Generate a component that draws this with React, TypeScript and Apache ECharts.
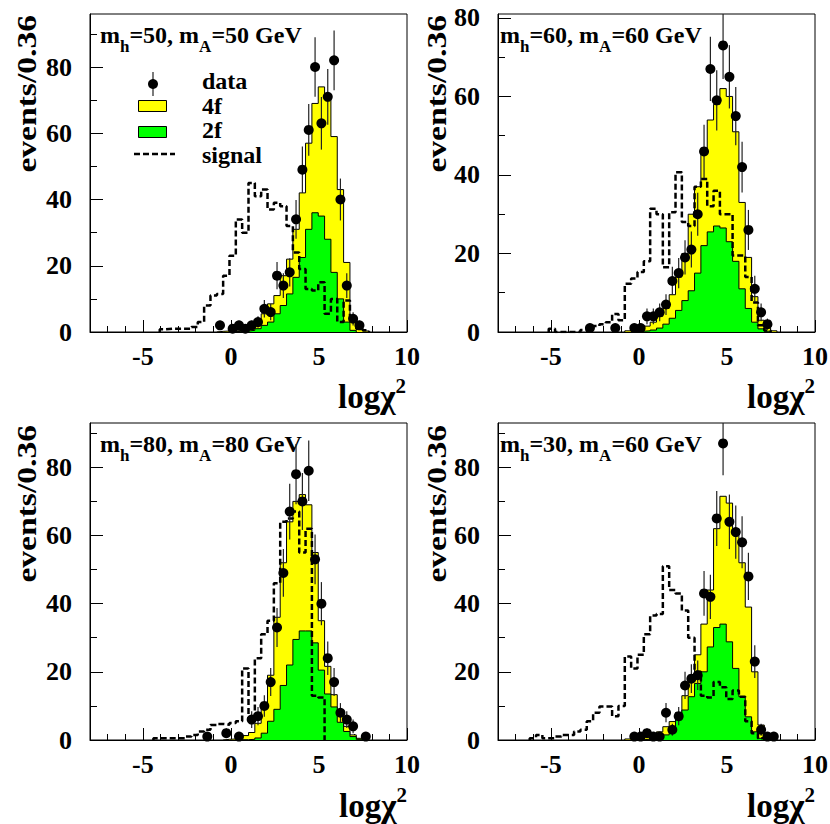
import { useEffect, useRef } from 'react'
import * as echarts from 'echarts'

const FONT = '"Liberation Serif", "Times New Roman", Times, serif'

// 50 bins of width 0.36 between -8 and 10
const BIN_MIN = -8
const BIN_WIDTH = 0.36
const N_BINS = 50

const xMin = -8
const xMax = 10
const xMajorTicks = [-5, 0, 5, 10]
const xMinorTicks = [-7, -6, -4, -3, -2, -1, 1, 2, 3, 4, 6, 7, 8, 9]
const yMajorTicks = [0, 20, 40, 60, 80]
const yMinorTicks = [10, 30, 50, 70, 90]

const panelMh = ['50', '60', '80', '30']
const panelMa = ['50', '60', '80', '60']
const panelYMax = [96, 81, 93, 93]

// bin contents, given from a first bin index (other bins are empty)
function fromBin(first: number, values: number[]): number[] {
  const out = new Array(N_BINS).fill(0)
  values.forEach((v, i) => { out[first + i] = v })
  return out
}

// mh=50, mA=50
const p1Data = fromBin(20, [2, 0, 1, 2, 1, 2, 3, 7, 6, 17, 14, 18, 34, 49, 61, 80, 63, 71, 82, 40, 14, 4, 2])
const p1Total = fromBin(20, [0.2, 0.3, 0.3, 0.5, 0.8, 1.5, 3, 5.5, 8.5, 11, 17, 22, 31, 42, 57, 69, 74, 71, 59, 43, 21, 4, 1, 0.3])
const p1TwoF = fromBin(22, [0.1, 0.2, 0.3, 0.5, 1, 2, 3, 5.5, 8, 11.5, 16.5, 22.5, 31, 36, 35, 28, 18, 10, 3, 0.5])
const p1Signal = fromBin(11, [0.8, 1, 1, 1, 1, 1.5, 3, 8, 11, 11.5, 17, 23, 34, 30, 45, 41, 43, 37, 39, 38, 32, 24, 19, 13, 12.5, 15, 5.5, 10, 3, 9.5, 4, 1, 0.5])

// mh=60, mA=60
const p2Data = fromBin(14, [1, 0, 0, 0, 1, 0, 0, 1, 1, 4, 4, 5, 7, 13, 15, 19, 21, 30, 46, 67, 59, 73, 65, 55, 42, 26, 11, 5, 2])
const p2Total = fromBin(20, [0.3, 0.5, 0.8, 1.5, 2.5, 4, 6, 9.5, 14, 20, 30, 37, 46, 54, 58, 62, 60, 51, 33, 19, 9, 3, 1, 0.3])
const p2TwoF = fromBin(21, [0.1, 0.2, 0.3, 0.5, 1, 2, 3.5, 5.5, 8, 10.5, 15, 22, 25.5, 27, 26.5, 23, 18, 11, 6, 2.5, 0.8, 0.2])
const p2Signal = fromBin(8, [0.8, 0, 0, 0, 0, 0.5, 1, 1.5, 2, 2.5, 4.6, 3, 12.3, 13.6, 15.3, 18, 31.4, 30, 16.5, 30.5, 40.7, 28, 27, 37, 39, 32, 36, 30, 30, 19.5, 19.5, 14, 7.5, 1.7, 0.4])

// mh=80, mA=80
const p3Data = fromBin(18, [1, 0, 0, 2, 0, 1, 0, 6, 7, 10, 17, 33, 49, 67, 78, 70, 79, 53, 40, 24, 17, 8, 6, 4, 0, 1])
const p3Total = fromBin(21, [0.2, 0.3, 0.7, 1.3, 2.2, 4.9, 10, 19, 36, 52, 64, 70, 72, 69, 55, 35, 21.6, 13.3, 8, 4, 1.5, 0.5])
const p3TwoF = fromBin(23, [0.1, 0.1, 0.2, 0.6, 2, 5.5, 9, 16, 22, 29.5, 32, 32, 28.5, 20.5, 13.5, 9.7, 5.2, 2.5, 1, 0.2])
const p3Signal = fromBin(10, [0.5, 0.5, 0.5, 0.5, 0.5, 1, 1.5, 2.5, 3, 4.4, 4.7, 4.5, 5, 5.5, 21, 6, 24, 31, 35, 46, 64, 65, 67, 55, 62, 13, 12.5])

// mh=30, mA=60
const p4Data = fromBin(21, [1, 1, 2, 1, 1, 8, 3, 7, 16, 18, 19, 43, 42, 65, 87, 64, 61, 58, 48, 23, 3, 1, 1])
const p4Total = fromBin(20, [0.3, 0.5, 0.7, 1, 1.5, 2.4, 3.9, 5.4, 8, 13, 18, 25, 34, 44, 62, 71.5, 69.5, 62, 52, 39, 20, 4.4, 1, 0.3])
const p4TwoF = fromBin(22, [0.1, 0.2, 0.3, 0.5, 1.5, 3.4, 5.9, 8.8, 12.7, 16.6, 20, 27.3, 33, 34, 28.8, 21, 12.7, 6.8, 2.4, 0.5])
const p4Signal = fromBin(5, [0.5, 1.5, 0.5, 0.5, 1, 1.5, 1.5, 2.5, 3, 5.5, 8, 9.8, 9.8, 7, 10, 24.5, 21, 25, 31, 36.5, 37, 51, 44, 43, 38, 30, 20, 13, 12.5, 17, 15.5, 12, 14.5, 12.7, 5.5, 2, 0.5])

const panels = [
  { data: p1Data, total: p1Total, twoF: p1TwoF, signal: p1Signal },
  { data: p2Data, total: p2Total, twoF: p2TwoF, signal: p2Signal },
  { data: p3Data, total: p3Total, twoF: p3TwoF, signal: p3Signal },
  { data: p4Data, total: p4Total, twoF: p4TwoF, signal: p4Signal },
]

// layout (px)
const gridBoxes = [[90, 14, 317, 318], [498, 14, 317, 318], [90, 423, 317, 317], [498, 423, 317, 317]]
const titlePos = [[100, 23], [500, 23], [100, 432], [500, 432]]
const yTitlePos = [[26, 15], [436, 15], [26, 425], [436, 425]]
const xTitlePos = [[406, 375], [815, 375], [407, 784], [815, 784]]

const edge = (k: number) => +(BIN_MIN + BIN_WIDTH * k).toFixed(2)
const center = (k: number) => +(BIN_MIN + BIN_WIDTH * (k + 0.5)).toFixed(2)

function stepLine(values: number[]) {
  const first = values.findIndex(v => v > 0)
  let last = values.length - 1
  while (last > 0 && !(values[last] > 0)) last--
  const pts: number[][] = [[edge(first), 0]]
  for (let k = first; k <= last; k++) pts.push([edge(k), values[k]])
  pts.push([edge(last + 1), values[last]])
  pts.push([edge(last + 1), 0])
  return pts
}

function points(values: number[]) {
  const out: number[][] = []
  values.forEach((v, k) => { if (v > 0) out.push([center(k), v]) })
  return out
}

const labelStyle = { fontSize: 26, fontWeight: 'bold', fontFamily: FONT, color: '#000' }
const black = { color: '#000', width: 1 }

function buildOption() {
  const grid: any[] = []
  const xAxis: any[] = []
  const yAxis: any[] = []
  const series: any[] = []
  const graphic: any[] = []

  panels.forEach((p, g) => {
    const [left, top, width, height] = gridBoxes[g]
    grid.push({ left, top, width, height, show: true, borderColor: '#000', borderWidth: 1, containLabel: false, outerBoundsMode: 'none' })

    xAxis.push({
      type: 'value', gridIndex: g, min: xMin, max: xMax, position: 'bottom',
      axisLine: { onZero: false, lineStyle: black },
      axisTick: { customValues: xMajorTicks, inside: true, length: 12, lineStyle: black },
      axisLabel: { customValues: xMajorTicks, margin: 11, ...labelStyle },
      splitLine: { show: false },
    })
    xAxis.push({
      type: 'value', gridIndex: g, min: xMin, max: xMax, position: 'bottom',
      axisLine: { show: false, onZero: false },
      axisTick: { customValues: xMinorTicks, inside: true, length: 6, lineStyle: black },
      axisLabel: { show: false },
      splitLine: { show: false },
    })
    const yMax = panelYMax[g]
    yAxis.push({
      type: 'value', gridIndex: g, min: 0, max: yMax, position: 'left',
      axisLine: { onZero: false, lineStyle: black },
      axisTick: { customValues: yMajorTicks, inside: true, length: 13, lineStyle: black },
      axisLabel: { customValues: yMajorTicks, margin: 18, ...labelStyle },
      splitLine: { show: false },
    })
    yAxis.push({
      type: 'value', gridIndex: g, min: 0, max: yMax, position: 'left',
      axisLine: { show: false, onZero: false },
      axisTick: { customValues: yMinorTicks.filter(v => v < yMax), inside: true, length: 7, lineStyle: black },
      axisLabel: { show: false },
      splitLine: { show: false },
    })

    const ax = { xAxisIndex: 2 * g, yAxisIndex: 2 * g }
    series.push({
      type: 'line', ...ax, data: stepLine(p.total), step: 'end', symbol: 'none', silent: true, z: 2,
      lineStyle: { color: '#000', width: 1 }, areaStyle: { color: '#ffff00', opacity: 1 },
    })
    series.push({
      type: 'line', ...ax, data: stepLine(p.twoF), step: 'end', symbol: 'none', silent: true, z: 3,
      lineStyle: { color: '#000', width: 1 }, areaStyle: { color: '#00ff00', opacity: 1 },
    })
    series.push({
      type: 'line', ...ax, data: stepLine(p.signal), step: 'end', symbol: 'none', silent: true, z: 4,
      lineStyle: { color: '#000', width: 2.5, type: [6, 3] },
    })
    const pts = points(p.data)
    series.push({
      type: 'custom', ...ax, data: pts, clip: true, silent: true, z: 5,
      encode: { x: 0, y: 1 },
      renderItem: (_params: any, api: any) => {
        const x = api.value(0)
        const n = api.value(1)
        const e = Math.sqrt(n)
        const a = api.coord([x, n - e])
        const b = api.coord([x, n + e])
        return { type: 'line', shape: { x1: a[0], y1: a[1], x2: b[0], y2: b[1] }, style: { stroke: '#222', lineWidth: 1.2 } }
      },
    })
    series.push({
      type: 'scatter', ...ax, data: pts, symbolSize: 10, silent: true, z: 6,
      itemStyle: { color: '#000', opacity: 1 },
    })

    // panel texts
    const tok = { fontWeight: 'bold', fontFamily: FONT, fill: '#000' }
    graphic.push({
      type: 'text', x: titlePos[g][0], y: titlePos[g][1], silent: true,
      style: {
        text: `{m|m}{s|h}{m|=${panelMh[g]}, m}{s|A}{m|=${panelMa[g]} GeV}`,
        align: 'left', verticalAlign: 'top',
        rich: {
          m: { ...tok, fontSize: 24, verticalAlign: 'top' },
          s: { ...tok, fontSize: 17, lineHeight: 32, verticalAlign: 'bottom' },
        },
      },
    })
    graphic.push({
      type: 'text', x: yTitlePos[g][0], y: yTitlePos[g][1], rotation: Math.PI / 2, scaleX: 1.2, silent: true,
      style: { text: 'events/0.36', ...tok, fontSize: 28, align: 'right', verticalAlign: 'middle' },
    })
    graphic.push({
      type: 'text', x: xTitlePos[g][0], y: xTitlePos[g][1], silent: true,
      style: {
        text: '{m|logχ}{p|2}', align: 'right', verticalAlign: 'top',
        rich: {
          m: { ...tok, fontSize: 33, lineHeight: 38, verticalAlign: 'bottom' },
          p: { ...tok, fontSize: 21, verticalAlign: 'top' },
        },
      },
    })
  })

  // legend of the first panel
  const legendText = { fontSize: 24, fontWeight: 'bold', fontFamily: FONT, fill: '#000', verticalAlign: 'middle' }
  graphic.push(
    { type: 'line', silent: true, shape: { x1: 153, y1: 72, x2: 153, y2: 96 }, style: { stroke: '#222', lineWidth: 1.2 } },
    { type: 'circle', silent: true, shape: { cx: 153, cy: 84, r: 5 }, style: { fill: '#000' } },
    { type: 'rect', silent: true, shape: { x: 138.5, y: 100.5, width: 28, height: 11 }, style: { fill: '#ffff00', stroke: '#000', lineWidth: 1 } },
    { type: 'rect', silent: true, shape: { x: 138.5, y: 126.5, width: 28, height: 11 }, style: { fill: '#00ff00', stroke: '#000', lineWidth: 1 } },
    { type: 'line', silent: true, shape: { x1: 134, y1: 154, x2: 175, y2: 154 }, style: { stroke: '#000', lineWidth: 2.5, lineDash: [6, 3] } },
    { type: 'text', silent: true, x: 202, y: 81, style: { text: 'data', ...legendText } },
    { type: 'text', silent: true, x: 202, y: 105.5, style: { text: '4f', ...legendText } },
    { type: 'text', silent: true, x: 202, y: 130, style: { text: '2f', ...legendText } },
    { type: 'text', silent: true, x: 202, y: 154.5, style: { text: 'signal', ...legendText } },
  )

  return {
    animation: false,
    backgroundColor: '#fff',
    textStyle: { fontFamily: FONT, fontWeight: 'bold', fontSize: 24, color: '#000' },
    grid, xAxis, yAxis, series, graphic,
  }
}

export default function App() {
  const chartRef = useRef<HTMLDivElement>(null)

  useEffect(() => {
    if (!chartRef.current) return
    const chart = echarts.init(chartRef.current, null, { renderer: 'svg' })
    chart.setOption(buildOption())
    return () => {
      chart.dispose()
    }
  }, [])

  return <div ref={chartRef} style={{ position: 'fixed', left: 0, top: 0, width: 830, height: 824, background: '#fff' }} />
}
